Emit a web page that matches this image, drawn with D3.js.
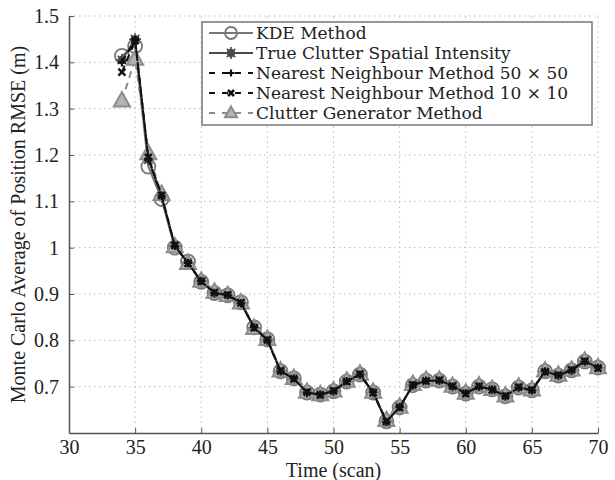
<!DOCTYPE html>
<html>
<head>
<meta charset="utf-8">
<script src="https://cdn.jsdelivr.net/npm/d3@7"></script>
<style>
body { margin: 0; background: #fff; }
</style>
</head>
<body>
<div id="chart"></div>
<script>
// scans 34..70
var scans = [34,35,36,37,38,39,40,41,42,43,44,45,46,47,48,49,50,51,52,53,54,55,56,57,58,59,60,61,62,63,64,65,66,67,68,69,70];

var kde   = [1.414,1.435,1.175,1.105,1.000,0.970,0.926,0.902,0.897,0.882,0.828,0.802,0.733,0.718,0.687,0.683,0.690,0.711,0.726,0.687,0.625,0.655,0.703,0.713,0.713,0.700,0.685,0.700,0.694,0.679,0.698,0.692,0.733,0.724,0.735,0.754,0.741];
var truth = [1.405,1.450,1.190,1.110,1.003,0.968,0.927,0.903,0.896,0.881,0.827,0.801,0.734,0.717,0.688,0.682,0.691,0.710,0.727,0.686,0.626,0.656,0.704,0.712,0.714,0.701,0.686,0.701,0.693,0.680,0.699,0.693,0.732,0.725,0.736,0.755,0.740];
var nn50  = [1.400,1.448,1.192,1.112,1.004,0.967,0.928,0.902,0.897,0.880,0.828,0.800,0.733,0.718,0.687,0.683,0.690,0.712,0.726,0.688,0.624,0.656,0.703,0.713,0.713,0.700,0.686,0.700,0.694,0.679,0.698,0.692,0.733,0.724,0.735,0.754,0.741];
var nn10  = [1.379,1.447,1.195,1.113,1.005,0.966,0.927,0.903,0.898,0.881,0.827,0.801,0.734,0.717,0.688,0.682,0.691,0.711,0.727,0.687,0.625,0.655,0.704,0.712,0.714,0.701,0.685,0.701,0.693,0.680,0.699,0.693,0.732,0.725,0.736,0.755,0.740];
var cgen  = [1.317,1.407,1.203,1.115,1.002,0.966,0.928,0.904,0.897,0.881,0.826,0.802,0.734,0.718,0.688,0.683,0.691,0.712,0.727,0.688,0.627,0.656,0.705,0.714,0.714,0.701,0.686,0.702,0.694,0.680,0.699,0.693,0.734,0.725,0.736,0.755,0.741];

var xTicks = [30,35,40,45,50,55,60,65,70];
var yTicks = [0.7,0.8,0.9,1.0,1.1,1.2,1.3,1.4,1.5];

var series = [
	{name: "KDE Method", vals: kde, color: "#777", dash: null, marker: "circle", size: 7},
	{name: "True Clutter Spatial Intensity", vals: truth, color: "#4a4a4a", dash: null, marker: "star", size: 6},
	{name: "Clutter Generator Method", vals: cgen, color: "#8c8c8c", dash: "7,5", marker: "triangle", size: 8},
	{name: "Nearest Neighbour Method 50 \u00d7 50", vals: nn50, color: "#111", dash: "7,5", marker: "plus", size: 7},
	{name: "Nearest Neighbour Method 10 \u00d7 10", vals: nn10, color: "#111", dash: "7,5", marker: "cross", size: 7}
];
// legend order differs from draw order
var legendOrder = [0,1,3,4,2];

var SERIF = "'Liberation Serif', 'Times New Roman', Times, serif";
var LEGEND_FONT = "'DejaVu Serif', serif";

var W = 615, H = 480;
var m = {left: 69, right: 17, top: 16, bottom: 47};

var svg = d3.select("#chart").append("svg")
	.attr("width", W)
	.attr("height", H);

var x = d3.scaleLinear().domain([30, 70]).range([m.left, W - m.right]);
var y = d3.scaleLinear().domain([0.6, 1.5]).range([H - m.bottom, m.top]);

// grid
var grid = svg.append("g");
grid.selectAll("line.gx").data(xTicks.slice(1))
	.enter().append("line")
	.attr("x1", d => x(d)).attr("x2", d => x(d))
	.attr("y1", y(0.6)).attr("y2", y(1.5))
	.attr("stroke", "#bbb").attr("stroke-width", 1).attr("stroke-dasharray", "1.5,3.5");
grid.selectAll("line.gy").data(yTicks)
	.enter().append("line")
	.attr("x1", x(30)).attr("x2", x(70))
	.attr("y1", d => y(d)).attr("y2", d => y(d))
	.attr("stroke", "#bbb").attr("stroke-width", 1).attr("stroke-dasharray", "1.5,3.5");

// axes
var xAxis = svg.append("g")
	.attr("transform", `translate(0,${y(0.6)})`)
	.call(d3.axisBottom(x).tickValues(xTicks).tickSizeInner(-5).tickSizeOuter(0).tickPadding(7).tickFormat(d3.format("d")));
var yAxis = svg.append("g")
	.attr("transform", `translate(${x(30)},0)`)
	.call(d3.axisLeft(y).tickValues(yTicks).tickSizeInner(-5).tickSizeOuter(0).tickPadding(10).tickFormat(d => d === 1 ? "1" : d3.format(".1f")(d)));
[xAxis, yAxis].forEach(function(a){
	a.attr("font-family", SERIF).attr("font-size", 20);
	a.select(".domain").attr("stroke", "#555").attr("stroke-width", 1.5);
	a.selectAll(".tick line").attr("stroke", "#555");
	a.selectAll(".tick text").attr("fill", "#222");
});

svg.append("text")
	.attr("x", (x(30) + x(70)) / 2).attr("y", 477)
	.attr("text-anchor", "middle").attr("fill", "#222")
	.attr("font-family", SERIF).attr("font-size", 20)
	.text("Time (scan)");
svg.append("text")
	.attr("transform", `translate(25,${(y(0.6) + y(1.5)) / 2}) rotate(-90)`)
	.attr("text-anchor", "middle").attr("fill", "#222")
	.attr("font-family", SERIF).attr("font-size", 20)
	.text("Monte Carlo Average of Position RMSE (m)");

function drawMarker(g, type, color, size){
	var s = size;
	if(type === "circle"){
		g.append("circle").attr("r", s).attr("fill", "none").attr("stroke", color).attr("stroke-width", 1.8);
	}else if(type === "star"){
		g.append("circle").attr("r", s * 0.7).attr("fill", color);
		[0, 45, 90, 135].forEach(function(a){
			g.append("line").attr("x1", -s).attr("x2", s).attr("y1", 0).attr("y2", 0)
				.attr("transform", `rotate(${a})`).attr("stroke", color).attr("stroke-width", 1.6);
		});
	}else if(type === "triangle"){
		g.append("path")
			.attr("d", `M0,${-s * 1.1}L${s},${s * 0.7}L${-s},${s * 0.7}Z`)
			.attr("fill", "#b4b4b4").attr("stroke", color).attr("stroke-width", 2);
	}else if(type === "plus"){
		g.append("path").attr("d", `M${-s * 0.6},0H${s * 0.6}M0,${-s * 0.6}V${s * 0.6}`)
			.attr("stroke", color).attr("stroke-width", 2.2);
	}else if(type === "cross"){
		g.append("path").attr("d", `M${-s * 0.5},${-s * 0.5}L${s * 0.5},${s * 0.5}M${-s * 0.5},${s * 0.5}L${s * 0.5},${-s * 0.5}`)
			.attr("stroke", color).attr("stroke-width", 2.5);
	}
}

var line = d3.line().x((d, i) => x(scans[i])).y(d => y(d));

var plot = svg.append("g");
series.forEach(function(s){
	plot.append("path")
		.datum(s.vals)
		.attr("d", line)
		.attr("fill", "none")
		.attr("stroke", s.color)
		.attr("stroke-width", 2)
		.attr("stroke-dasharray", s.dash);
	s.vals.forEach(function(v, i){
		var g = plot.append("g").attr("transform", `translate(${x(scans[i])},${y(v)})`);
		drawMarker(g, s.marker, s.color, s.size);
	});
});

// legend
var lg = svg.append("g");
lg.append("rect")
	.attr("x", 202).attr("y", 22).attr("width", 390).attr("height", 103)
	.attr("fill", "#fff").attr("stroke", "#777").attr("stroke-width", 1.5);
legendOrder.forEach(function(k, i){
	var s = series[k];
	var cy = 33 + i * 20;
	lg.append("line")
		.attr("x1", 209).attr("x2", 253).attr("y1", cy).attr("y2", cy)
		.attr("stroke", s.color).attr("stroke-width", 2)
		.attr("stroke-dasharray", s.dash ? "6,7" : null);
	var g = lg.append("g").attr("transform", `translate(231,${cy})`);
	drawMarker(g, s.marker, s.color, 6);
	lg.append("text")
		.attr("x", 256).attr("y", cy + 6)
		.attr("fill", "#222")
		.attr("font-family", LEGEND_FONT).attr("font-size", 17)
		.text(s.name);
});
</script>
</body>
</html>
